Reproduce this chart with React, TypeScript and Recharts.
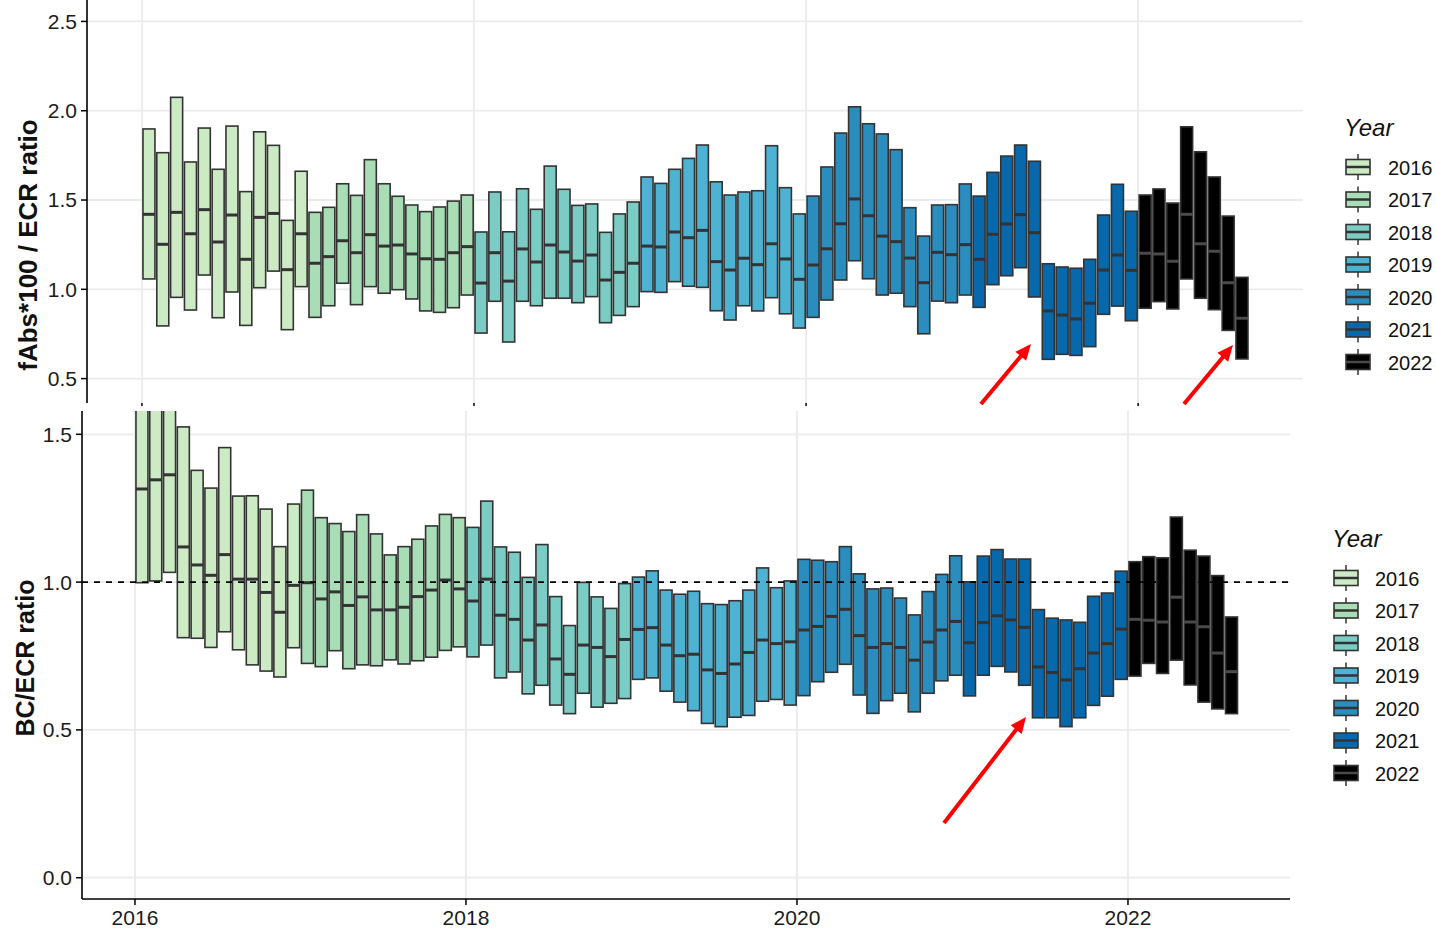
import { ComposedChart, Bar, XAxis, YAxis, CartesianGrid, ReferenceLine } from "recharts";

const YEARS = [2016, 2017, 2018, 2019, 2020, 2021, 2022];
const MONTHS_PER_YEAR = [12, 12, 12, 12, 12, 12, 8];
const YEAR_COLORS = ["#ccebc5", "#a8ddb5", "#7bccc4", "#4eb3d3", "#2b8cbe", "#0868ac", "#000000"];
const X_TICKS = [2016, 2018, 2020, 2022];

// top panel: fAbs*100 / ECR ratio (lower quartile, median, upper quartile per month)
const TOP_Q1 = [
  1.058, 0.795, 0.955, 0.884, 1.08, 0.841, 0.985, 0.798, 1.009, 1.102, 0.774, 1.015,
  0.843, 0.908, 1.034, 0.914, 1.015, 0.978, 0.998, 0.946, 0.879, 0.871, 0.897, 0.968,
  0.755, 0.933, 0.705, 0.933, 0.908, 0.95, 0.95, 0.925, 0.959, 0.813, 0.854, 0.903,
  0.987, 0.983, 1.043, 1.017, 1.011, 0.88, 0.828, 0.908, 0.879, 0.953, 0.863, 0.783,
  0.843, 0.94, 1.052, 1.16, 1.059, 0.968, 0.978, 0.903, 0.751, 0.934, 0.925, 0.968,
  0.899, 1.026, 1.076, 1.121, 0.957, 0.608, 0.636, 0.63, 0.679, 0.86, 0.906, 0.824,
  0.894, 0.931, 0.89, 1.058, 0.95, 0.886, 0.77, 0.61,
];
const TOP_MED = [
  1.42, 1.252, 1.431, 1.311, 1.446, 1.265, 1.416, 1.168, 1.403, 1.425, 1.11, 1.311,
  1.146, 1.183, 1.272, 1.205, 1.306, 1.242, 1.248, 1.198, 1.171, 1.168, 1.205, 1.239,
  1.035, 1.205, 1.046, 1.226, 1.153, 1.248, 1.209, 1.158, 1.192, 1.052, 1.095, 1.146,
  1.242, 1.237, 1.321, 1.289, 1.33, 1.155, 1.108, 1.174, 1.138, 1.255, 1.17, 1.056,
  1.136, 1.227, 1.367, 1.506, 1.412, 1.298, 1.267, 1.175, 1.037, 1.207, 1.194, 1.25,
  1.168, 1.308, 1.366, 1.418, 1.317, 0.879, 0.856, 0.834, 0.922, 1.108, 1.192, 1.106,
  1.202, 1.198, 1.157, 1.42, 1.255, 1.213, 1.037, 0.838,
];
const TOP_Q3 = [
  1.898, 1.765, 2.075, 1.713, 1.903, 1.672, 1.914, 1.547, 1.882, 1.806, 1.386, 1.661,
  1.431, 1.459, 1.591, 1.526, 1.726, 1.591, 1.521, 1.472, 1.435, 1.461, 1.494, 1.528,
  1.321, 1.545, 1.322, 1.563, 1.448, 1.69, 1.56, 1.47, 1.478, 1.319, 1.422, 1.489,
  1.629, 1.593, 1.672, 1.733, 1.808, 1.602, 1.528, 1.545, 1.552, 1.804, 1.569, 1.422,
  1.522, 1.685, 1.875, 2.022, 1.927, 1.87, 1.782, 1.457, 1.298, 1.472, 1.474, 1.59,
  1.522, 1.655, 1.746, 1.808, 1.717, 1.143, 1.125, 1.118, 1.168, 1.416, 1.588, 1.437,
  1.528, 1.562, 1.483, 1.91, 1.77, 1.629, 1.41, 1.067,
];

// bottom panel: BC/ECR ratio
const BOT_Q1 = [
  0.998, 1.004, 1.033, 0.812, 0.81, 0.779, 0.832, 0.771, 0.72, 0.699, 0.679, 0.778,
  0.725, 0.714, 0.768, 0.707, 0.72, 0.717, 0.737, 0.723, 0.734, 0.746, 0.769, 0.781,
  0.747, 0.787, 0.676, 0.696, 0.622, 0.651, 0.584, 0.555, 0.624, 0.577, 0.59, 0.606,
  0.671, 0.676, 0.631, 0.594, 0.565, 0.522, 0.511, 0.543, 0.549, 0.597, 0.603, 0.584,
  0.616, 0.663, 0.695, 0.722, 0.618, 0.556, 0.599, 0.624, 0.561, 0.624, 0.666, 0.685,
  0.615, 0.685, 0.715, 0.696, 0.651, 0.541, 0.541, 0.511, 0.541, 0.583, 0.614, 0.671,
  0.682, 0.725, 0.691, 0.736, 0.652, 0.594, 0.571, 0.555,
];
const BOT_MED = [
  1.315, 1.346, 1.363, 1.119, 1.058, 1.023, 1.093, 1.01, 1.01, 0.965, 0.898, 0.989,
  0.998, 0.943, 0.967, 0.921, 0.95, 0.906, 0.906, 0.915, 0.951, 0.973, 1.007, 0.977,
  0.936, 1.01, 0.888, 0.874, 0.804, 0.855, 0.74, 0.688, 0.787, 0.779, 0.748, 0.806,
  0.84, 0.846, 0.787, 0.751, 0.756, 0.703, 0.691, 0.723, 0.762, 0.804, 0.792, 0.798,
  0.838, 0.85, 0.884, 0.908, 0.819, 0.779, 0.792, 0.779, 0.736, 0.797, 0.838, 0.867,
  0.795, 0.863, 0.886, 0.872, 0.847, 0.713, 0.694, 0.669, 0.707, 0.76, 0.792, 0.841,
  0.874, 0.871, 0.865, 0.949, 0.865, 0.849, 0.76, 0.697,
];
const BOT_Q3 = [
  1.7, 1.75, 1.8, 1.525, 1.378, 1.318, 1.455, 1.291, 1.292, 1.247, 1.12, 1.264,
  1.311, 1.218, 1.198, 1.171, 1.228, 1.163, 1.092, 1.12, 1.145, 1.19, 1.229, 1.218,
  1.185, 1.274, 1.119, 1.101, 1.016, 1.127, 0.951, 0.853, 0.999, 0.95, 0.911, 0.995,
  1.017, 1.038, 0.973, 0.959, 0.969, 0.927, 0.924, 0.937, 0.973, 1.048, 0.981, 1.004,
  1.077, 1.074, 1.069, 1.12, 1.028, 0.977, 0.98, 0.946, 0.889, 0.968, 1.026, 1.089,
  1.001, 1.088, 1.11, 1.078, 1.078, 0.907, 0.878, 0.872, 0.864, 0.952, 0.963, 1.037,
  1.069, 1.086, 1.082, 1.22, 1.108, 1.088, 1.022, 0.882,
];

const FONT = '"Liberation Sans", Arial, sans-serif';

type Row = { x: number; year: number; color: string; q1: number; med: number; q3: number };

const months: { x: number; year: number; color: string }[] = [];
YEARS.forEach((year, i) => {
  for (let m = 0; m < MONTHS_PER_YEAR[i]; m++) {
    months.push({ x: year + (m + 0.5) / 12, year, color: YEAR_COLORS[i] });
  }
});

const buildRows = (q1: number[], med: number[], q3: number[]): Row[] =>
  months.map((mo, i) => ({ ...mo, q1: q1[i], med: med[i], q3: q3[i] }));

const topData = buildRows(TOP_Q1, TOP_MED, TOP_Q3);
const botData = buildRows(BOT_Q1, BOT_MED, BOT_Q3);

const BoxShape = (props: any) => {
  const { x, y, width, height, payload } = props;
  const top = Math.min(y, y + height);
  const h = Math.abs(height);
  const my = top + (h * (payload.q3 - payload.med)) / (payload.q3 - payload.q1);
  return (
    <g>
      <rect x={x} y={top} width={width} height={h} fill={payload.color} stroke="#333333" strokeWidth={1.6} />
      <line
        x1={x}
        x2={x + width}
        y1={my}
        y2={my}
        stroke={payload.year === 2022 ? "#4a4a4a" : "#333333"}
        strokeWidth={3}
      />
    </g>
  );
};

const tickStyle = { fill: "#1a1a1a", fontSize: 21, fontFamily: FONT };
const fmt = (v: number) => v.toFixed(1);

const YearLegend = ({ x, y, textX }: { x: number; y: number; textX: number }) => (
  <g>
    <text x={x - 2} y={y - 31} fontSize={24} fontStyle="italic" fontFamily={FONT} fill="#111">
      Year
    </text>
    {YEARS.map((yr, i) => {
      const cy = y + i * 32.5;
      return (
        <g key={yr}>
          <line x1={x + 12} x2={x + 12} y1={cy - 13} y2={cy + 13} stroke="#333" strokeWidth={1.5} />
          <rect x={x} y={cy - 7.5} width={24} height={15} fill={YEAR_COLORS[i]} stroke="#333" strokeWidth={1.6} />
          <line x1={x} x2={x + 24} y1={cy} y2={cy} stroke={yr === 2022 ? "#4a4a4a" : "#333"} strokeWidth={2.5} />
          <text x={textX} y={cy + 7.5} fontSize={20} fontFamily={FONT} fill="#111">
            {yr}
          </text>
        </g>
      );
    })}
  </g>
);

const Arrow = ({ x1, y1, x2, y2 }: { x1: number; y1: number; x2: number; y2: number }) => {
  const dx = x2 - x1;
  const dy = y2 - y1;
  const len = Math.hypot(dx, dy);
  const ux = dx / len;
  const uy = dy / len;
  const hl = 16;
  const hw = 7;
  const bx = x2 - ux * hl;
  const by = y2 - uy * hl;
  return (
    <g>
      <line x1={x1} y1={y1} x2={bx + ux * 3} y2={by + uy * 3} stroke="#ff0000" strokeWidth={4} />
      <polygon
        points={`${x2},${y2} ${bx - uy * hw},${by + ux * hw} ${bx + uy * hw},${by - ux * hw}`}
        fill="#ff0000"
      />
    </g>
  );
};

export default function App() {
  return (
    <div style={{ position: "absolute", left: 0, top: 0, width: 1436, height: 930, background: "#fff" }}>
      <div style={{ position: "absolute", left: 0, top: 0 }}>
        <ComposedChart width={1436} height={413} data={topData} margin={{ top: 0, right: 133, bottom: 0, left: 0 }}>
          <CartesianGrid stroke="#ebebeb" strokeWidth={1.8} syncWithTicks />
          <XAxis
            dataKey="x"
            type="number"
            domain={[2015.669, 2022.993]}
            ticks={X_TICKS}
            allowDataOverflow
            height={10}
            axisLine={false}
            tickLine={{ stroke: "#000", strokeWidth: 1.5 }}
            tickSize={6}
            tick={() => <g />}
          />
          <YAxis
            type="number"
            domain={[0.3634, 2.62]}
            ticks={[0.5, 1, 1.5, 2, 2.5]}
            interval={0}
            allowDataOverflow
            width={87}
            tickFormatter={fmt}
            tick={tickStyle}
            tickSize={6}
            tickMargin={4}
            axisLine={{ stroke: "#000", strokeWidth: 1.6 }}
            tickLine={{ stroke: "#000", strokeWidth: 1.5 }}
          />
          <Bar dataKey={(d: Row) => [d.q1, d.q3]} barSize={12} shape={BoxShape} isAnimationActive={false} />
        </ComposedChart>
      </div>
      <div style={{ position: "absolute", left: 0, top: 406, width: 1436, height: 524, background: "#fff" }}>
        <ComposedChart width={1436} height={522} data={botData} margin={{ top: 5, right: 146, bottom: 0, left: 0 }}>
          <CartesianGrid stroke="#ebebeb" strokeWidth={1.8} syncWithTicks />
          <XAxis
            dataKey="x"
            type="number"
            domain={[2015.68, 2022.979]}
            ticks={X_TICKS}
            allowDataOverflow
            height={29}
            tick={tickStyle}
            tickSize={6}
            tickMargin={5}
            axisLine={{ stroke: "#000", strokeWidth: 1.6 }}
            tickLine={{ stroke: "#000", strokeWidth: 1.5 }}
          />
          <YAxis
            type="number"
            domain={[-0.072, 1.5788]}
            ticks={[0, 0.5, 1, 1.5]}
            interval={0}
            allowDataOverflow
            width={82}
            tickFormatter={fmt}
            tick={tickStyle}
            tickSize={6}
            tickMargin={4}
            axisLine={{ stroke: "#000", strokeWidth: 1.6 }}
            tickLine={{ stroke: "#000", strokeWidth: 1.5 }}
          />
          <Bar dataKey={(d: Row) => [d.q1, d.q3]} barSize={12} shape={BoxShape} isAnimationActive={false} />
          <ReferenceLine y={1} stroke="#000" strokeWidth={1.6} strokeDasharray="6 6" />
        </ComposedChart>
      </div>
      <svg width={1436} height={930} style={{ position: "absolute", left: 0, top: 0, pointerEvents: "none" }}>
        <text
          transform="translate(37,245) rotate(-90)"
          textAnchor="middle"
          fontSize={26}
          fontWeight="bold"
          fontFamily={FONT}
          fill="#111"
        >
          fAbs*100 / ECR ratio
        </text>
        <text
          transform="translate(34,658) rotate(-90)"
          textAnchor="middle"
          fontSize={25}
          fontWeight="bold"
          fontFamily={FONT}
          fill="#111"
        >
          BC/ECR ratio
        </text>
        <YearLegend x={1346} y={167} textX={1388} />
        <YearLegend x={1334} y={578} textX={1375} />
        <Arrow x1={981} y1={404} x2={1031} y2={344} />
        <Arrow x1={1184} y1={404} x2={1233} y2={345} />
        <Arrow x1={944} y1={823} x2={1026} y2={717} />
      </svg>
    </div>
  );
}
